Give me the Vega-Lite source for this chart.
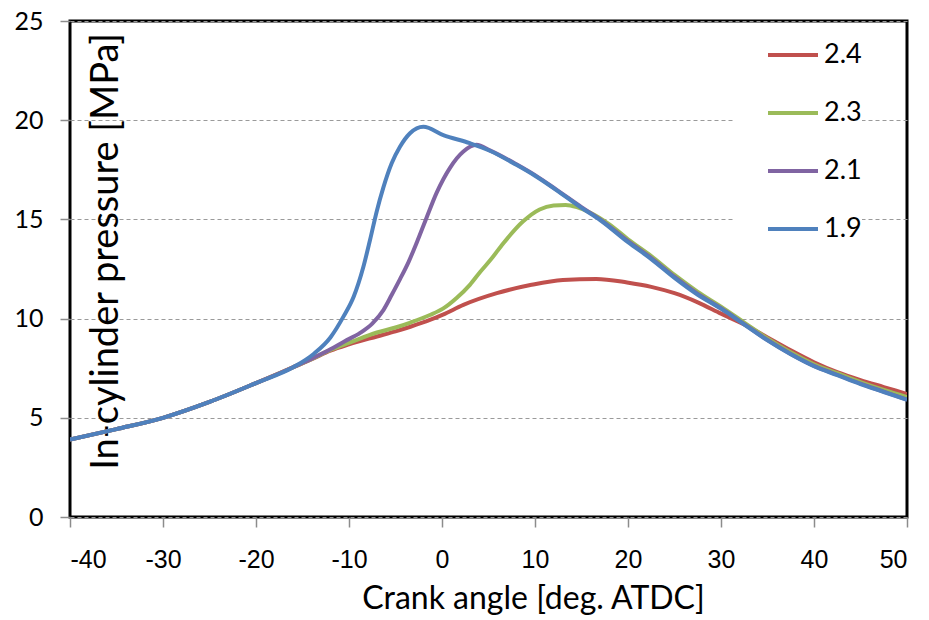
{
  "$schema": "https://vega.github.io/schema/vega-lite/v6.json",
  "width": 837,
  "height": 496,
  "autosize": "none",
  "padding": {"left": 70, "top": 21, "right": 22, "bottom": 103},
  "background": "white",
  "config": {
    "view": {"stroke": "black", "strokeWidth": 3},
    "font": "Lato"
  },
  "datasets": {
    "curves": [
      {"series": "2.4", "angle": -40, "p": 3.9},
      {"series": "2.4", "angle": -35, "p": 4.43},
      {"series": "2.4", "angle": -30, "p": 5.0},
      {"series": "2.4", "angle": -25, "p": 5.8},
      {"series": "2.4", "angle": -20, "p": 6.75},
      {"series": "2.4", "angle": -16, "p": 7.55},
      {"series": "2.4", "angle": -14, "p": 7.95},
      {"series": "2.4", "angle": -12, "p": 8.38},
      {"series": "2.4", "angle": -10, "p": 8.7},
      {"series": "2.4", "angle": -7, "p": 9.1},
      {"series": "2.4", "angle": -5, "p": 9.36},
      {"series": "2.4", "angle": -3.4, "p": 9.59},
      {"series": "2.4", "angle": -1.3, "p": 9.93},
      {"series": "2.4", "angle": 0.1, "p": 10.2},
      {"series": "2.4", "angle": 2.3, "p": 10.69},
      {"series": "2.4", "angle": 5.9, "p": 11.28},
      {"series": "2.4", "angle": 9.5, "p": 11.69},
      {"series": "2.4", "angle": 13, "p": 11.95},
      {"series": "2.4", "angle": 16.6, "p": 12.0},
      {"series": "2.4", "angle": 19.9, "p": 11.82},
      {"series": "2.4", "angle": 22.5, "p": 11.6},
      {"series": "2.4", "angle": 25, "p": 11.28},
      {"series": "2.4", "angle": 27.5, "p": 10.82},
      {"series": "2.4", "angle": 30, "p": 10.25},
      {"series": "2.4", "angle": 32.5, "p": 9.7},
      {"series": "2.4", "angle": 35, "p": 9.05},
      {"series": "2.4", "angle": 37.5, "p": 8.4},
      {"series": "2.4", "angle": 40, "p": 7.8},
      {"series": "2.4", "angle": 42.5, "p": 7.3},
      {"series": "2.4", "angle": 45, "p": 6.9},
      {"series": "2.4", "angle": 47.5, "p": 6.55},
      {"series": "2.4", "angle": 50, "p": 6.2},

      {"series": "2.3", "angle": -40, "p": 3.9},
      {"series": "2.3", "angle": -35, "p": 4.43},
      {"series": "2.3", "angle": -30, "p": 5.0},
      {"series": "2.3", "angle": -25, "p": 5.8},
      {"series": "2.3", "angle": -20, "p": 6.75},
      {"series": "2.3", "angle": -16, "p": 7.55},
      {"series": "2.3", "angle": -14, "p": 7.97},
      {"series": "2.3", "angle": -12, "p": 8.42},
      {"series": "2.3", "angle": -10, "p": 8.78},
      {"series": "2.3", "angle": -7, "p": 9.3},
      {"series": "2.3", "angle": -5, "p": 9.55},
      {"series": "2.3", "angle": -3.4, "p": 9.8},
      {"series": "2.3", "angle": -1.3, "p": 10.18},
      {"series": "2.3", "angle": 0.1, "p": 10.5},
      {"series": "2.3", "angle": 1.6, "p": 11.05},
      {"series": "2.3", "angle": 3, "p": 11.7},
      {"series": "2.3", "angle": 4.1, "p": 12.35},
      {"series": "2.3", "angle": 5.2, "p": 12.95},
      {"series": "2.3", "angle": 6.6, "p": 13.8},
      {"series": "2.3", "angle": 8.7, "p": 14.89},
      {"series": "2.3", "angle": 10.5, "p": 15.5},
      {"series": "2.3", "angle": 12, "p": 15.7},
      {"series": "2.3", "angle": 13.3, "p": 15.73},
      {"series": "2.3", "angle": 14.5, "p": 15.62},
      {"series": "2.3", "angle": 15.9, "p": 15.35},
      {"series": "2.3", "angle": 18, "p": 14.75},
      {"series": "2.3", "angle": 20, "p": 14.0},
      {"series": "2.3", "angle": 22.5, "p": 13.15},
      {"series": "2.3", "angle": 25, "p": 12.2},
      {"series": "2.3", "angle": 27.5, "p": 11.35},
      {"series": "2.3", "angle": 30, "p": 10.6},
      {"series": "2.3", "angle": 32.5, "p": 9.8},
      {"series": "2.3", "angle": 35, "p": 9.0},
      {"series": "2.3", "angle": 37.5, "p": 8.3},
      {"series": "2.3", "angle": 40, "p": 7.7},
      {"series": "2.3", "angle": 42.5, "p": 7.25},
      {"series": "2.3", "angle": 45, "p": 6.8},
      {"series": "2.3", "angle": 47.5, "p": 6.4},
      {"series": "2.3", "angle": 50, "p": 6.05},

      {"series": "2.1", "angle": -40, "p": 3.9},
      {"series": "2.1", "angle": -35, "p": 4.43},
      {"series": "2.1", "angle": -30, "p": 5.0},
      {"series": "2.1", "angle": -25, "p": 5.8},
      {"series": "2.1", "angle": -20, "p": 6.75},
      {"series": "2.1", "angle": -16, "p": 7.55},
      {"series": "2.1", "angle": -14, "p": 7.98},
      {"series": "2.1", "angle": -12, "p": 8.45},
      {"series": "2.1", "angle": -10.5, "p": 8.85},
      {"series": "2.1", "angle": -8.8, "p": 9.28},
      {"series": "2.1", "angle": -7.5, "p": 9.75},
      {"series": "2.1", "angle": -6.3, "p": 10.43},
      {"series": "2.1", "angle": -5.4, "p": 11.2},
      {"series": "2.1", "angle": -4.5, "p": 12.0},
      {"series": "2.1", "angle": -3.6, "p": 12.85},
      {"series": "2.1", "angle": -2.7, "p": 13.85},
      {"series": "2.1", "angle": -1.65, "p": 15.1},
      {"series": "2.1", "angle": -0.57, "p": 16.35},
      {"series": "2.1", "angle": 0.86, "p": 17.6},
      {"series": "2.1", "angle": 2.3, "p": 18.42},
      {"series": "2.1", "angle": 3.7, "p": 18.76},
      {"series": "2.1", "angle": 5.2, "p": 18.47},
      {"series": "2.1", "angle": 8, "p": 17.78},
      {"series": "2.1", "angle": 10, "p": 17.23},
      {"series": "2.1", "angle": 12.3, "p": 16.5},
      {"series": "2.1", "angle": 15, "p": 15.62},
      {"series": "2.1", "angle": 17, "p": 15.0},
      {"series": "2.1", "angle": 20, "p": 13.9},
      {"series": "2.1", "angle": 22.5, "p": 13.05},
      {"series": "2.1", "angle": 25, "p": 12.1},
      {"series": "2.1", "angle": 27.5, "p": 11.25},
      {"series": "2.1", "angle": 30, "p": 10.52},
      {"series": "2.1", "angle": 32.5, "p": 9.72},
      {"series": "2.1", "angle": 35, "p": 8.92},
      {"series": "2.1", "angle": 37.5, "p": 8.22},
      {"series": "2.1", "angle": 40, "p": 7.62},
      {"series": "2.1", "angle": 42.5, "p": 7.17},
      {"series": "2.1", "angle": 45, "p": 6.72},
      {"series": "2.1", "angle": 47.5, "p": 6.32},
      {"series": "2.1", "angle": 50, "p": 5.92},

      {"series": "1.9", "angle": -40, "p": 3.9},
      {"series": "1.9", "angle": -35, "p": 4.43},
      {"series": "1.9", "angle": -30, "p": 5.0},
      {"series": "1.9", "angle": -25, "p": 5.8},
      {"series": "1.9", "angle": -20, "p": 6.75},
      {"series": "1.9", "angle": -16, "p": 7.55},
      {"series": "1.9", "angle": -13.8, "p": 8.22},
      {"series": "1.9", "angle": -12, "p": 9.05},
      {"series": "1.9", "angle": -10.6, "p": 10.1},
      {"series": "1.9", "angle": -9.5, "p": 11.1},
      {"series": "1.9", "angle": -8.46, "p": 12.6},
      {"series": "1.9", "angle": -7.74, "p": 13.96},
      {"series": "1.9", "angle": -7.02, "p": 15.4},
      {"series": "1.9", "angle": -6.31, "p": 16.6},
      {"series": "1.9", "angle": -5.41, "p": 17.83},
      {"series": "1.9", "angle": -4.52, "p": 18.66},
      {"series": "1.9", "angle": -3.44, "p": 19.34},
      {"series": "1.9", "angle": -2, "p": 19.67},
      {"series": "1.9", "angle": 0.14, "p": 19.25},
      {"series": "1.9", "angle": 3, "p": 18.84},
      {"series": "1.9", "angle": 5.2, "p": 18.45},
      {"series": "1.9", "angle": 8, "p": 17.75},
      {"series": "1.9", "angle": 10, "p": 17.2},
      {"series": "1.9", "angle": 12.3, "p": 16.48},
      {"series": "1.9", "angle": 15, "p": 15.58},
      {"series": "1.9", "angle": 17, "p": 14.97},
      {"series": "1.9", "angle": 20, "p": 13.85},
      {"series": "1.9", "angle": 22.5, "p": 13.0},
      {"series": "1.9", "angle": 25, "p": 12.05},
      {"series": "1.9", "angle": 27.5, "p": 11.2},
      {"series": "1.9", "angle": 30, "p": 10.5},
      {"series": "1.9", "angle": 32.5, "p": 9.7},
      {"series": "1.9", "angle": 35, "p": 8.9},
      {"series": "1.9", "angle": 37.5, "p": 8.2},
      {"series": "1.9", "angle": 40, "p": 7.6},
      {"series": "1.9", "angle": 42.5, "p": 7.15},
      {"series": "1.9", "angle": 45, "p": 6.7},
      {"series": "1.9", "angle": 47.5, "p": 6.3},
      {"series": "1.9", "angle": 50, "p": 5.9}
    ]
  },
  "data": {"name": "curves"},
  "mark": {"type": "line", "strokeWidth": 4, "interpolate": "monotone", "clip": true},
  "encoding": {
    "x": {
      "field": "angle",
      "type": "quantitative",
      "scale": {"domain": [-40, 50], "nice": false, "zero": false},
      "axis": {
        "values": [-40, -30, -20, -10, 0, 10, 20, 30, 40, 50],
        "labelExpr": "datum.value < 0 ? '-' + abs(datum.value) : '' + datum.value",
        "title": "Crank angle [deg. ATDC]",
        "titleFont": "Lato",
        "titleFontSize": 32,
        "titleFontWeight": "normal",
        "titleColor": "black",
        "titleX": 463,
        "titleY": 91,
        "titleBaseline": "alphabetic",
        "labelFont": "Liberation Sans",
        "labelFontSize": 25,
        "labelColor": "black",
        "labelPadding": 20,
        "tickSize": 10,
        "tickColor": "#8c8c8c",
        "tickWidth": 1.5,
        "domain": false,
        "grid": false
      }
    },
    "y": {
      "field": "p",
      "type": "quantitative",
      "scale": {"domain": [0, 25], "nice": false},
      "axis": {
        "values": [0, 5, 10, 15, 20, 25],
        "title": "In-cylinder pressure [MPa]",
        "titleFont": "Lato",
        "titleFontSize": 38,
        "titleFontWeight": "normal",
        "titleColor": "black",
        "titleAngle": -90,
        "titleX": 47,
        "titleY": 230,
        "titleAlign": "center",
        "titleBaseline": "alphabetic",
        "labelFont": "Lato",
        "labelFontSize": 25,
        "labelColor": "black",
        "labelPadding": 17,
        "tickSize": 10,
        "tickColor": "#8c8c8c",
        "tickWidth": 1.5,
        "domain": false,
        "grid": true,
        "gridColor": "#9a9a9a",
        "gridDash": [4, 3],
        "gridWidth": 1
      }
    },
    "color": {
      "field": "series",
      "type": "nominal",
      "scale": {
        "domain": ["2.4", "2.3", "2.1", "1.9"],
        "range": ["#C0504D", "#9BBB59", "#8064A2", "#4F81BD"]
      },
      "legend": {
        "title": null,
        "orient": "none",
        "legendX": 663,
        "legendY": 7,
        "fillColor": "white",
        "padding": 0,
        "symbolType": "stroke",
        "symbolSize": 2500,
        "symbolStrokeWidth": 4,
        "symbolOffset": 33,
        "labelFont": "Lato",
        "labelFontSize": 27,
        "labelColor": "black",
        "labelOffset": 4,
        "labelExpr": "datum.label + '      '",
        "rowPadding": 18
      }
    }
  }
}
